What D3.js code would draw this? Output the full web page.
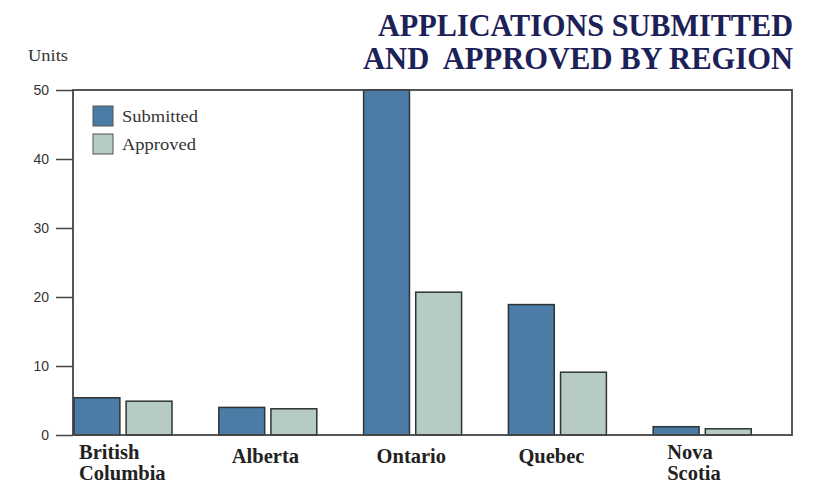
<!DOCTYPE html>
<html><head><meta charset="utf-8">
<script src="https://cdn.jsdelivr.net/npm/d3@7"></script>
<style>body{margin:0;background:#fff}svg{display:block}</style>
</head><body>
<svg id="c" width="833" height="483"></svg>
<script>
const categories = [["British","Columbia"],["Alberta"],["Ontario"],["Quebec"],["Nova","Scotia"]];
const submitted = [5.4, 4.0, 50, 18.9, 1.2];
const approved = [4.9, 3.8, 20.7, 9.1, 0.9];
const seriesNames = ["Submitted","Approved"];
const yTicks = [0,10,20,30,40,50];
const titleLines = ["APPLICATIONS SUBMITTED","AND  APPROVED BY REGION"];

const colors = {Submitted:"#4a7ca6", Approved:"#b6cbc2"};
const svg = d3.select("#c");
const frame = {l:73, r:792, t:90, b:435};
const ids = categories.map((c,i)=>i);
const x = d3.scaleBand().domain(ids).range([73, 73+5*144.8]).paddingInner(0).paddingOuter(0);
const xi = d3.scaleBand().domain(seriesNames).range([1, 99]).paddingInner(0.12);
const y = d3.scaleLinear().domain([0,50]).range([frame.b, frame.t]);

// title
svg.selectAll("text.title").data(titleLines).join("text")
  .attr("class","title")
  .attr("x",793).attr("y",(d,i)=>35.5+i*33.5)
  .attr("text-anchor","end")
  .attr("font-family","'Liberation Serif','Times New Roman',serif")
  .attr("font-size",31).attr("font-weight","bold")
  .attr("fill","#1c2158")
  .attr("textLength",(d,i)=>i===0?415:430)
  .attr("lengthAdjust","spacingAndGlyphs")
  .style("white-space","pre")
  .text(d=>d);

svg.append("text").attr("x",28).attr("y",61)
  .attr("font-family","'Liberation Serif',serif").attr("font-size",16.5)
  .attr("textLength",40).attr("lengthAdjust","spacingAndGlyphs")
  .attr("fill","#333").text("Units");

// y axis
const yAxis = d3.axisLeft(y).tickValues(yTicks).tickSize(17).tickPadding(7);
const ga = svg.append("g").attr("transform",`translate(${frame.l},0)`).call(yAxis);
ga.select(".domain").remove();
ga.selectAll(".tick line").attr("stroke","#444").attr("stroke-width",1.5);
ga.selectAll(".tick text").attr("font-family","'Liberation Sans',Arial,sans-serif")
  .attr("font-size",14).attr("fill","#333");

// bars
const rows = ids.map(i=>({i, vals:[{s:"Submitted",v:submitted[i]},{s:"Approved",v:approved[i]}]}));
const g = svg.append("g");
g.selectAll("g.grp").data(rows).join("g").attr("class","grp")
  .attr("transform",d=>`translate(${x(d.i)},0)`)
  .selectAll("rect").data(d=>d.vals).join("rect")
  .attr("x",d=>xi(d.s)).attr("width",xi.bandwidth())
  .attr("y",d=>y(d.v)).attr("height",d=>y(0)-y(d.v))
  .attr("fill",d=>colors[d.s]).attr("stroke","#2e3438").attr("stroke-width",1.5);

// frame
svg.append("rect").attr("x",frame.l).attr("y",frame.t)
  .attr("width",frame.r-frame.l).attr("height",frame.b-frame.t)
  .attr("fill","none").attr("stroke","#444").attr("stroke-width",1.8);

// category labels
const off = [6,14,14,11,15];
svg.selectAll("text.cat").data(ids).join("text").attr("class","cat")
  .attr("y",i=>categories[i].length>1?459:463)
  .attr("font-family","'Liberation Serif','Times New Roman',serif")
  .attr("font-weight","bold").attr("font-size",20.5).attr("fill","#222")
  .selectAll("tspan").data(i=>categories[i].map(t=>({t,i}))).join("tspan")
  .attr("x",d=>x(d.i)+off[d.i]).attr("dy",(d,k)=>k?21:0).text(d=>d.t);

// legend
const lg = svg.append("g").selectAll("g").data(seriesNames).join("g")
  .attr("transform",(d,i)=>`translate(93,${106+i*28})`);
lg.append("rect").attr("width",20).attr("height",20)
  .attr("fill",d=>colors[d]).attr("stroke","#555").attr("stroke-width",1);
lg.append("text").attr("x",29).attr("y",16)
  .attr("font-family","'Liberation Serif',serif").attr("font-size",17.5).attr("fill","#333")
  .attr("textLength",(d,i)=>i?74:76).attr("lengthAdjust","spacingAndGlyphs")
  .text(d=>d);
</script>
</body></html>
